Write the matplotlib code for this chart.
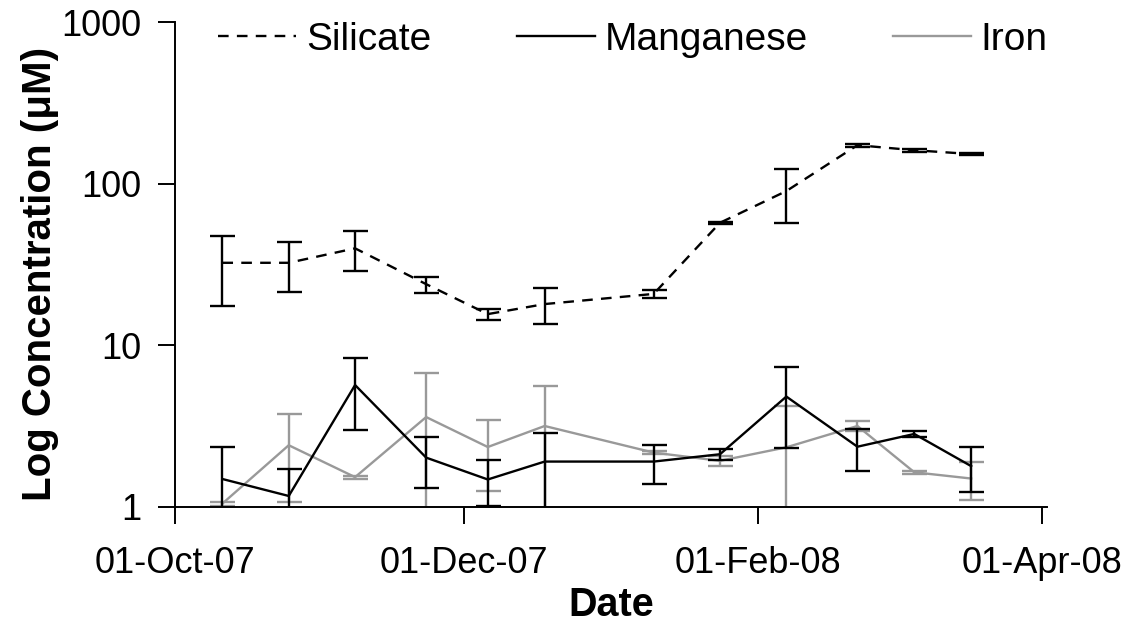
import numpy as np
import matplotlib
matplotlib.use("Agg")
import matplotlib.pyplot as plt
import matplotlib.dates as mdates

plt.rcParams["font.family"] = ["Liberation Sans", "DejaVu Sans"]

# sampling dates
dates = np.array(["2007-10-11", "2007-10-25", "2007-11-08", "2007-11-23",
                  "2007-12-06", "2007-12-18", "2008-01-10", "2008-01-24",
                  "2008-02-07", "2008-02-22", "2008-03-05", "2008-03-17"],
                 dtype="datetime64[D]")

silicate = [32.4, 32.4, 39.8, 23.9, 15.6, 18.0, 20.8, 57.3, 90.0, 173.0, 161.0, 152.5]
silicate_sd = [15.0, 11.0, 10.8, 2.7, 1.2, 4.5, 1.2, 1.0, 33.0, 4.0, 3.0, 3.0]

manganese = [1.49, 1.17, 5.68, 2.02, 1.48, 1.91, 1.91, 2.12, 4.82, 2.36, 2.83, 1.79]
manganese_sd = [0.86, 0.54, 2.7, 0.7, 0.47, 0.95, 0.52, 0.17, 2.5, 0.68, 0.13, 0.56]

iron = [1.05, 2.41, 1.53, 3.60, 2.35, 3.17, 2.17, 1.93, 2.34, 3.17, 1.64, 1.50]
iron_sd = [0.03, 1.33, 0.03, 3.1, 1.1, 2.4, 0.05, 0.13, 1.85, 0.23, 0.03, 0.4]

x = dates.astype("O")

fig = plt.figure(figsize=(11.36, 6.26), dpi=100)
ax = fig.add_axes([175 / 1136, 1 - 507 / 626, 872 / 1136, 485 / 626])

lw = 1.7
sil = ax.errorbar(x, silicate, yerr=silicate_sd, color="black", lw=lw,
                  ls=(0, (4.5, 3.5)), elinewidth=lw, capsize=9, capthick=lw,
                  zorder=3)
mn = ax.errorbar(x, manganese, yerr=manganese_sd, color="black", lw=lw,
                 elinewidth=lw, capsize=9, capthick=lw, zorder=3)
fe = ax.errorbar(x, iron, yerr=iron_sd, color="#999999", lw=lw,
                 elinewidth=lw, capsize=9, capthick=lw, zorder=2)

ax.set_yscale("log")
ax.set_ylim(1, 1000)
ax.set_yticks([1, 10, 100, 1000])
ax.set_yticklabels(["1", "10", "100", "1000"])
ax.yaxis.set_minor_locator(matplotlib.ticker.NullLocator())

ax.set_xlim(np.datetime64("2007-10-01").astype("O"),
            np.datetime64("2008-04-02").astype("O"))
ax.set_xticks([np.datetime64(d).astype("O") for d in
               ["2007-10-01", "2007-12-01", "2008-02-01", "2008-04-01"]])
ax.xaxis.set_major_formatter(mdates.DateFormatter("%d-%b-%y"))

for s in ["top", "right"]:
    ax.spines[s].set_visible(False)
for s in ["left", "bottom"]:
    ax.spines[s].set_linewidth(1.4)
ax.tick_params(axis="both", direction="out", length=12, width=1.4,
               labelsize=26)
ax.tick_params(axis="x", pad=16)
ax.tick_params(axis="y", pad=12)

ax.set_xlabel("Date", fontsize=28.5, fontweight="bold")
ax.xaxis.set_label_coords(0.5, -0.163)
ax.set_ylabel("Log Concentration (μM)", fontsize=29, fontweight="bold")
ax.yaxis.set_label_coords(-0.133, 0.48)

fig.legend([sil[0], mn[0], fe[0]], ["Silicate", "Manganese", "Iron"],
           loc="center", bbox_to_anchor=(633 / 1136, 1 - 40 / 626),
           ncol=3, frameon=False, fontsize=28, handlelength=2.0,
           handletextpad=0.25, columnspacing=2.2, borderpad=0,
           borderaxespad=0)

fig.savefig("out.png", dpi=100)
